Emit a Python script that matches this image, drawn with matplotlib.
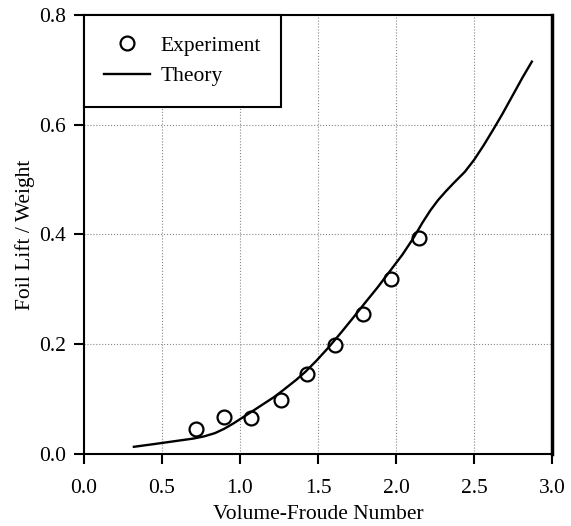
import matplotlib
matplotlib.use("Agg")
import matplotlib.pyplot as plt

plt.rcParams['font.family'] = ['Liberation Serif', 'DejaVu Serif']

# experiment points
exp_fr = [0.72, 0.90, 1.07, 1.26, 1.43, 1.61, 1.79, 1.97, 2.15]
exp_lift = [0.045, 0.068, 0.066, 0.099, 0.146, 0.199, 0.255, 0.319, 0.393]

# theory curve
th_fr = [0.32, 0.45, 0.60, 0.70, 0.77, 0.84, 0.90, 0.96, 1.02, 1.08, 1.15,
         1.22, 1.28, 1.36, 1.42, 1.49, 1.57, 1.65, 1.73, 1.80, 1.88, 1.96,
         2.04, 2.11, 2.17, 2.22, 2.27, 2.32, 2.37, 2.44, 2.50, 2.56, 2.62,
         2.68, 2.75, 2.81, 2.87]
th_lift = [0.013, 0.018, 0.024, 0.028, 0.032, 0.038, 0.046, 0.056, 0.067,
           0.078, 0.091, 0.104, 0.117, 0.135, 0.150, 0.170, 0.195, 0.222,
           0.250, 0.275, 0.303, 0.333, 0.363, 0.393, 0.422, 0.444, 0.463,
           0.479, 0.494, 0.514, 0.536, 0.562, 0.590, 0.619, 0.655, 0.686,
           0.715]

xticks = [0.0, 0.5, 1.0, 1.5, 2.0, 2.5, 3.0]
yticks = [0.0, 0.2, 0.4, 0.6, 0.8]

fig = plt.figure(figsize=(5.71, 5.26), dpi=100)
ax = fig.add_axes([0.147, 0.137, 0.820, 0.8345])

ax.grid(True, linestyle=':', color='#888888', linewidth=0.8)
ax.set_axisbelow(True)

ax.plot(exp_fr, exp_lift, 'o', mfc='white', mec='black', ms=10, mew=1.6,
        label='Experiment')
ax.plot(th_fr, th_lift, '-', color='black', lw=1.7, label='Theory')

ax.set_xlim(0, 3)
ax.set_ylim(0, 0.8)
ax.set_xticks(xticks)
ax.set_yticks(yticks)
ax.set_xticklabels([f"{v:.1f}" for v in xticks])
ax.set_yticklabels([f"{v:.1f}" for v in yticks])
ax.tick_params(direction='out', length=7, width=1.5, labelsize=15.5)
ax.tick_params(axis='x', pad=11)
ax.tick_params(axis='y', pad=6)

for s in ax.spines.values():
    s.set_linewidth(1.5)
ax.spines['right'].set_linewidth(2.5)

ax.set_xlabel('Volume-Froude Number', fontsize=15.5, labelpad=5)
ax.set_ylabel('Foil Lift / Weight', fontsize=15.5, labelpad=3)

leg = ax.legend(loc='upper left', bbox_to_anchor=(0, 1), borderaxespad=0,
                fancybox=False, framealpha=1, edgecolor='black', fontsize=15.5,
                handlelength=2.1, borderpad=0.95, labelspacing=0.5,
                handletextpad=0.5)
leg.get_frame().set_linewidth(1.5)

fig.savefig('out.png', dpi=100)
